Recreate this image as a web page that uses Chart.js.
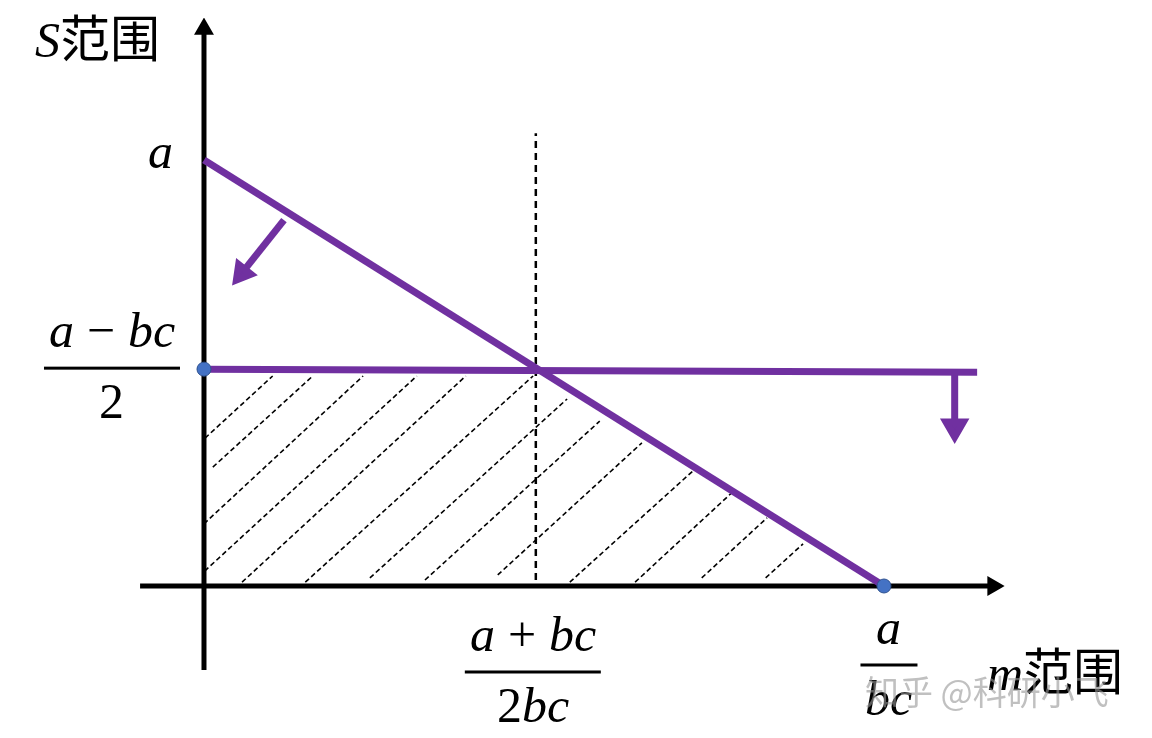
<!DOCTYPE html>
<html>
<head>
<meta charset="utf-8">
<script src="https://cdn.jsdelivr.net/npm/chart.js@4/dist/chart.umd.min.js"></script>
<style>
  @font-face { font-family: "Mate"; font-style: italic; src: local("Liberation Serif Italic"), local("LiberationSerif-Italic"), local("DejaVu Serif Italic"), local("DejaVuSerif-Italic"); }
  @font-face { font-family: "Mate"; font-style: normal; src: local("Liberation Serif"), local("LiberationSerif"), local("DejaVu Serif"), local("DejaVuSerif"); }
  body { margin: 0; background: #fff; }
  #precarga { position: absolute; left: -9999px; top: 0; font-size: 50px; }
</style>
</head>
<body>
<canvas id="grafico" width="1152" height="738"></canvas>
<div id="precarga">
  <span style="font-family: Mate; font-style: italic;">Sabcm</span>
  <span style="font-family: Mate;">2 + −</span>
  <span style="font-family: 'Noto Sans CJK SC';">范围知乎</span>
</div>
<script>
// data, m in units of a/bc, S in units of a
const mMid = 0.488;          // (a+bc)/2bc
const mEnd = 1;              // a/bc
const sTop = 1;              // a
const sMid = 0.509;          // (a-bc)/2

const diagonalM = [0, 1];
const diagonalS = [1, 0];
const horizM = [0, 1.137];
const horizS = [0.509, 0.502];
const dashedM = [0.488, 0.488];
const dashedS = [0.014, 1.063];
const arrowLeftM = [0.1176, 0.0559];
const arrowLeftS = [0.859, 0.735];
const arrowDownM = [1.104, 1.104];
const arrowDownS = [0.502, 0.373];
const puntosM = [0, 1];
const puntosS = [0.509, 0];

// hatch segments (start / end)
const hatchM1 = [0.0015, 0.013, 0.0, 0.001, 0.056, 0.149, 0.244, 0.325, 0.432, 0.538, 0.634, 0.732, 0.826];
const hatchS1 = [0.347, 0.279, 0.146, 0.035, 0.009, 0.009, 0.019, 0.014, 0.026, 0.009, 0.009, 0.019, 0.019];
const hatchM2 = [0.101, 0.160, 0.234, 0.313, 0.385, 0.484, 0.534, 0.582, 0.644, 0.719, 0.779, 0.828, 0.881];
const hatchS2 = [0.493, 0.493, 0.493, 0.493, 0.493, 0.493, 0.439, 0.387, 0.336, 0.270, 0.223, 0.160, 0.099];

const ejeXRango = [-0.094, 1.1605];
const ejeYRango = [-0.197, 1.3075];

const MORADO = "#7030A0";
const AZUL = "#4472C4";

const zip = (ms, ss) => ms.map((m, i) => ({ x: m, y: ss[i] }));

const hatchData = [];
hatchM1.forEach((m, i) => {
  hatchData.push({ x: m, y: hatchS1[i] });
  hatchData.push({ x: hatchM2[i], y: hatchS2[i] });
  hatchData.push({ x: hatchM2[i], y: null });
});

const SERIF = 'Mate, "Liberation Serif", "Times New Roman", serif';
const ITAL = "italic 50px " + SERIF;
const RECTO = "50px " + SERIF;
const CJK = '50px "Noto Sans CJK SC"';

function medir(ctx, partes) {
  let w = 0;
  partes.forEach(([t, f]) => { ctx.font = f; w += ctx.measureText(t).width; });
  return w;
}
function escribir(ctx, partes, x, y, centrado) {
  let w = medir(ctx, partes);
  let cx = centrado ? x - w / 2 : x;
  partes.forEach(([t, f]) => {
    ctx.font = f;
    ctx.fillText(t, cx, y);
    cx += ctx.measureText(t).width;
  });
  return w;
}
function fraccion(ctx, num, den, cx, yBarra) {
  const w = Math.max(medir(ctx, num), medir(ctx, den)) + 10;
  escribir(ctx, num, cx, yBarra - 21, true);
  escribir(ctx, den, cx, yBarra + 50, true);
  ctx.fillRect(cx - w / 2, yBarra - 1.5, w, 3);
}

const etiquetas = {
  id: "etiquetas",
  afterDraw(chart) {
    const ctx = chart.ctx;
    const sx = chart.scales.x, sy = chart.scales.y;
    const x0 = sx.getPixelForValue(0), y0 = sy.getPixelForValue(0);
    ctx.save();
    ctx.fillStyle = "#000";
    ctx.textBaseline = "alphabetic";
    // eje S
    escribir(ctx, [["S", ITAL], ["范围", CJK]], 35, 57, false);
    escribir(ctx, [["a", ITAL]], x0 - 43, sy.getPixelForValue(sTop) + 8, true);
    fraccion(ctx, [["a", ITAL], [" \u2212 ", RECTO], ["bc", ITAL]], [["2", RECTO]], x0 - 92, sy.getPixelForValue(sMid) - 1);
    // eje m
    fraccion(ctx, [["a", ITAL], [" + ", RECTO], ["bc", ITAL]], [["2", RECTO], ["bc", ITAL]], sx.getPixelForValue(mMid) - 3, y0 + 86);
    fraccion(ctx, [["a", ITAL]], [["bc", ITAL]], sx.getPixelForValue(mEnd) + 5, y0 + 79);
    escribir(ctx, [["m", ITAL], ["范围", CJK]], 987, 690, false);
    // marca de agua
    ctx.fillStyle = "rgba(150,150,150,0.6)";
    ctx.font = '34px "Noto Sans CJK SC"';
    ctx.textBaseline = "middle";
    ctx.fillText("知乎 @科研小飞", 865, 692);
    ctx.restore();
  }
};

function dibujar() {
  const ctx = document.getElementById("grafico").getContext("2d");
  new Chart(ctx, {
    type: "line",
    data: {
      datasets: [
        {
          data: zip(puntosM, puntosS),
          showLine: false,
          pointRadius: 7,
          pointBackgroundColor: AZUL,
          pointBorderColor: "#2F528F",
          pointBorderWidth: 1,
          order: 0
        },
        {
          data: zip(diagonalM, diagonalS),
          borderColor: MORADO, borderWidth: 7, pointRadius: 0, order: 1
        },
        {
          data: zip(horizM, horizS),
          borderColor: MORADO, borderWidth: 7, pointRadius: 0, order: 1
        },
        {
          data: zip(arrowLeftM, arrowLeftS),
          borderColor: MORADO, borderWidth: 7,
          pointRadius: [0, 9], pointStyle: "triangle", pointRotation: 218.4,
          pointBackgroundColor: MORADO, pointBorderColor: MORADO, order: 1
        },
        {
          data: zip(arrowDownM, arrowDownS),
          borderColor: MORADO, borderWidth: 7,
          pointRadius: [0, 10], pointStyle: "triangle", pointRotation: 180,
          pointBackgroundColor: MORADO, pointBorderColor: MORADO, order: 1
        },
        {
          data: [{ x: 0, y: ejeYRango[0] }, { x: 0, y: ejeYRango[1] }],
          borderColor: "#000", borderWidth: 5,
          pointRadius: [0, 6.5], pointStyle: "triangle", pointRotation: 0,
          pointBackgroundColor: "#000", pointBorderColor: "#000", order: 2
        },
        {
          data: [{ x: ejeXRango[0], y: 0 }, { x: ejeXRango[1], y: 0 }],
          borderColor: "#000", borderWidth: 5,
          pointRadius: [0, 6.5], pointStyle: "triangle", pointRotation: 90,
          pointBackgroundColor: "#000", pointBorderColor: "#000", order: 2
        },
        {
          data: zip(dashedM, dashedS),
          borderColor: "#000", borderWidth: 2.5, borderDash: [7, 5],
          pointRadius: 0, order: 3
        },
        {
          data: hatchData,
          borderColor: "#000", borderWidth: 1.6, borderDash: [5, 3],
          pointRadius: 0, spanGaps: false, order: 3
        }
      ]
    },
    options: {
      responsive: false,
      devicePixelRatio: 1,
      animation: false,
      layout: { padding: { left: 140, right: 144, top: 18, bottom: 66 } },
      scales: {
        x: { type: "linear", display: false, min: -0.0941, max: 1.1824 },
        y: { type: "linear", display: false, min: -0.2019, max: 1.3333 }
      },
      plugins: {
        legend: { display: false },
        tooltip: { enabled: false }
      }
    },
    plugins: [etiquetas]
  });
}

Promise.all([
  document.fonts.load("italic 50px Mate"),
  document.fonts.load("50px Mate")
]).catch(() => {}).then(() => document.fonts.ready).then(dibujar);
</script>
</body>
</html>
